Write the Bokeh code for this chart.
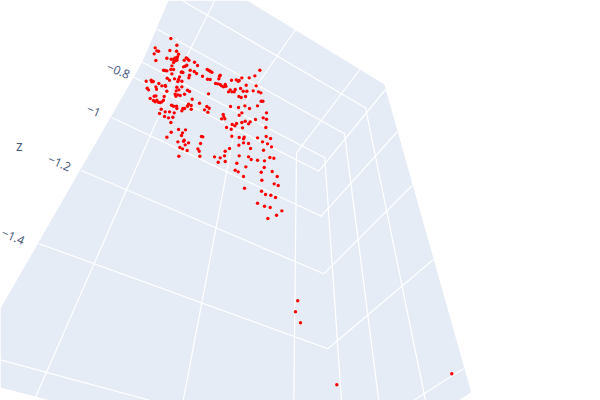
from bokeh.plotting import figure
from bokeh.models import Range1d
from bokeh.core.properties import value
from bokeh.embed import file_html
from bokeh.resources import INLINE

upper_x = [122,140,75,72,80,85,77,119,139,145,142,135,130,140,110,123,135,130,140,125,122,130,100,105,110,125,111,118,133,148,145,143,155,155,153,158,160,165,170,168,162,172,176,193,202,180,192,199,178,176,217,231,236,240,245,232,240,270,268,266,256,263,270,274,280,285,287,304,318,324,327,335,357,374,389,48,63,65,69,86,95,105,106,77,79,51,55,110,140,146,155,138,135,143,150,137,172,178,163,235,60,72,77,80,70,75,85,90,95,100,102,186,175,172,183,208,230,237,223,233,124,130,139,140,93,88,105,118,132,155,158,163,183,103,115,128,122,123,145,166,157,154,110,214,218,295,300,305,315,312,331,348,339,350,369,378,385,392,326,333,346,398,393,382,301,325,344,358,335,327,409,399,409,376,360,355,345,335,319,314,306,279,281,274,284,289,303,337,407,305,327,342,340,382,408,421]
upper_y = [55,75,83,101,92,93,121,91,93,102,110,113,117,116,114,117,122,127,120,137,148,148,150,151,152,161,174,180,176,170,178,184,183,155,156,157,140,138,135,113,120,116,120,126,136,150,154,160,165,173,168,148,151,153,156,177,178,165,168,176,190,191,193,197,200,193,198,180,179,183,181,173,173,167,150,183,180,185,184,190,197,196,198,200,207,204,209,213,201,209,200,212,222,224,226,228,210,214,222,221,235,228,227,240,241,245,246,247,245,240,229,237,252,258,256,249,259,264,269,276,255,258,258,265,267,280,275,275,278,272,265,265,267,289,293,291,307,336,328,329,338,346,351,349,350,215,209,215,208,215,205,195,213,213,212,197,215,218,229,232,229,243,243,257,259,262,257,265,278,285,278,293,297,298,305,311,303,307,310,317,313,283,290,296,296,322,327,323,322,348,352,351,356,353,349,355]
lower_x = [83,100,102,115,105,151,89,97,111,143,147,86,149,238,225,223,193,210,204,225,266,280,295,337,352,364,301,340,267,295,303,322,343,359,371,260,287,342,255,264,333,366,381,280,335,372,384,283,334,346,362,376,322,343,360,395,379,353]
lower_y = [65,63,60,68,74,70,82,86,91,86,93,108,108,85,93,107,110,113,126,124,75,68,70,65,71,80,85,90,107,110,118,120,122,112,114,129,140,142,150,155,156,154,169,169,180,191,196,204,213,223,225,232,249,258,262,272,285,295]
far_x = [297.2,295,300,336.3,451.3]
far_y = [300.3,311.3,322.3,384.3,373.3]

z_ticks = ["\u22120.8", "\u22121", "\u22121.2", "\u22121.4"]
z_tick_x = [118, 93.3, 59, 12.6]
z_tick_y = [70, 110, 162.3, 236]

panel_x = [168,141.7,0,0,50,458,470.7,385,384,246.7]
panel_y = [0,61.7,308,387,400,400,391.7,88,84,0]

grid_x = [
    [181.7,365,425],
    [156,344,378.3],
    [141.7,324.3,341],
    [133.3,318.3,385],
    [111,320.7,397],
    [80.7,323.3,411.7],
    [38,327.3,432.7],
    [0,150],
    [463,413],
    [214.3,174,35],
    [295,246,235,182.7],
    [359.3,296,293.3],
]
grid_y = [
    [0,107.3,400],
    [28.3,133.3,400],
    [61.7,157.3,400],
    [76.7,170.7,89],
    [117,215.7,131],
    [170,273.3,185],
    [243,348.3,259.3],
    [359.3,400],
    [368,400],
    [0,80,396.7],
    [29,100,125,400],
    [69,152.7,400],
]

xs = [129.7 + v / 3 for v in upper_x] + [149.7 + v / 3 for v in lower_x] + far_x
ys = [19.7 + v / 3 for v in upper_y] + [119.7 + v / 3 for v in lower_y] + far_y

p = figure(width=600, height=400, output_backend="svg", toolbar_location=None,
           x_range=Range1d(0, 600), y_range=Range1d(400, 0), min_border=0,
           outline_line_color=None, background_fill_color="white", border_fill_color="white")
p.xaxis.visible = False
p.yaxis.visible = False
p.grid.visible = False

p.patch(panel_x, panel_y, fill_color="#E5ECF6", line_color=None)
p.multi_line(grid_x, grid_y, line_color="white", line_width=1.2)
p.scatter(xs, ys, size=3.4, fill_color="red", line_color=None)
p.text(z_tick_x, z_tick_y, text=z_ticks, angle=-0.40, text_align="center", text_baseline="middle",
       text_font=value("Open Sans"), text_font_size="12px", text_color="#43567a")
p.text([18.7], [145], text=["z"], text_align="center", text_baseline="middle",
       text_font=value("Open Sans"), text_font_size="14px", text_color="#43567a")

open("out.html", "w").write(file_html(p, INLINE))
